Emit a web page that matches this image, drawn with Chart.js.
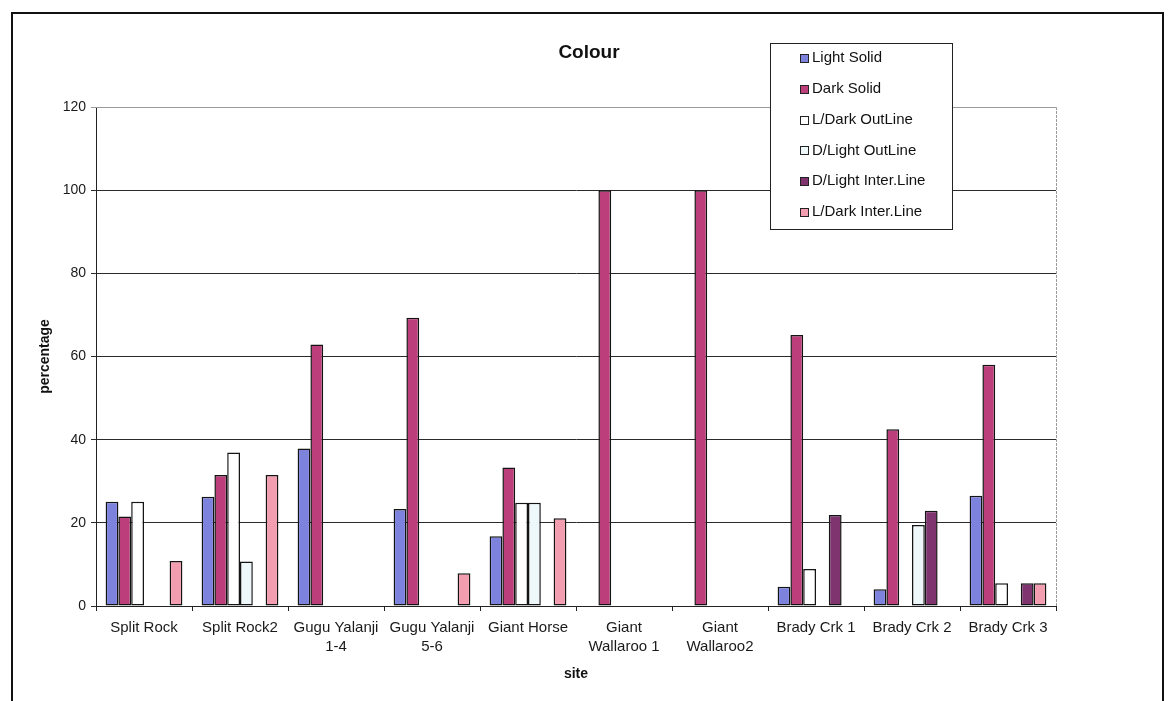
<!DOCTYPE html>
<html>
<head>
<meta charset="utf-8">
<title>Colour</title>
<script src="https://cdn.jsdelivr.net/npm/chart.js@4/dist/chart.umd.min.js"></script>
<style>
  html, body { margin: 0; padding: 0; background: #fff; }
  #wrap { width: 1168px; height: 701px; position: relative; }
</style>
</head>
<body>
<div id="wrap"><canvas id="c" width="1168" height="701"></canvas></div>
<script>
// Sites along the x axis (multi-line labels as arrays)
const categories = [
  ["Split Rock"], ["Split Rock2"], ["Gugu Yalanji", "1-4"], ["Gugu Yalanji", "5-6"],
  ["Giant Horse"], ["Giant", "Wallaroo 1"], ["Giant", "Wallaroo2"],
  ["Brady Crk 1"], ["Brady Crk 2"], ["Brady Crk 3"]
];

// Percentages per colour class (null = no bar)
const lightSolid     = [25.1, 26.3, 37.9, 23.3, 16.8, null, null, 4.6, 4.0, 26.5];
const darkSolid      = [21.5, 31.5, 62.9, 69.3, 33.3, 100, 100, 65.2, 42.5, 58.0];
const lDarkOutLine   = [25.1, 36.9, null, null, 24.8, null, null, 8.9, null, 5.5];
const dLightOutLine  = [null, 10.7, null, null, 24.8, null, null, null, 19.5, null];
const dLightInterLine= [null, null, null, null, null, null, null, 21.9, 22.9, 5.5];
const lDarkInterLine = [10.8, 31.5, null, 7.9, 21.1, null, null, null, null, 5.5];

const seriesNames = ["Light Solid", "Dark Solid", "L/Dark OutLine", "D/Light OutLine", "D/Light Inter.Line", "L/Dark Inter.Line"];
const seriesColors = ["#7d83dc", "#bc3f7c", "#ffffff", "#eef7f9", "#7f346f", "#f29db0"];

// y axis ticks
const yTicks = [0, 20, 40, 60, 80, 100, 120];

const FONT = "'Liberation Sans', Arial, sans-serif";

const seriesData = [lightSolid, darkSolid, lDarkOutLine, dLightOutLine, dLightInterLine, lDarkInterLine];

const datasets = seriesNames.map((name, i) => ({
  label: name,
  data: seriesData[i],
  backgroundColor: seriesColors[i],
  borderColor: "#141414",
  borderWidth: 1.5,
  borderSkipped: false,
  categoryPercentage: 0.8,
  barPercentage: 1.0
}));

// Page frame, plot border, title and boxed legend
const decor = {
  id: "decor",
  beforeDraw(chart) {
    const ctx = chart.ctx;
    ctx.save();
    ctx.fillStyle = "#fff";
    ctx.fillRect(0, 0, chart.width, chart.height);
    ctx.restore();
  },
  beforeDatasetsDraw(chart) {
    const ctx = chart.ctx, a = chart.chartArea;
    ctx.save();
    ctx.strokeStyle = "#9a9a9a";
    ctx.lineWidth = 1;
    ctx.setLineDash([3, 1]);
    ctx.beginPath();
    ctx.moveTo(a.left, Math.round(a.top) + 0.5);
    ctx.lineTo(Math.round(a.right) + 0.5, Math.round(a.top) + 0.5);
    ctx.lineTo(Math.round(a.right) + 0.5, a.bottom);
    ctx.stroke();
    ctx.restore();
  },
  afterDraw(chart) {
    const ctx = chart.ctx;
    ctx.save();
    // outer frame
    ctx.strokeStyle = "#111";
    ctx.lineWidth = 2;
    ctx.strokeRect(12, 13, 1151, 720);

    // title
    ctx.fillStyle = "#111";
    ctx.font = "bold 19px " + FONT;
    ctx.textAlign = "center";
    ctx.textBaseline = "middle";
    ctx.fillText("Colour", 589, 53);

    // legend
    const lx = 770.5, ly = 43.5, lw = 182, lh = 186;
    ctx.fillStyle = "#fff";
    ctx.fillRect(lx, ly, lw, lh);
    ctx.strokeStyle = "#222";
    ctx.lineWidth = 1;
    ctx.strokeRect(lx, ly, lw, lh);
    ctx.font = "15px " + FONT;
    ctx.textAlign = "left";
    chart.data.datasets.forEach((ds, i) => {
      const cy = 58 + i * 30.8;
      ctx.fillStyle = ds.backgroundColor;
      ctx.fillRect(800, Math.round(cy - 4), 9, 9);
      ctx.strokeStyle = "#222";
      ctx.strokeRect(800.5, Math.round(cy - 4) + 0.5, 8, 8);
      ctx.fillStyle = "#111";
      ctx.fillText(ds.label, 812, cy);
    });
    ctx.restore();
  }
};

new Chart(document.getElementById("c"), {
  type: "bar",
  data: { labels: categories, datasets },
  plugins: [decor],
  options: {
    responsive: false,
    animation: false,
    layout: { padding: { left: 0, right: 112, top: 107, bottom: 0 } },
    plugins: { legend: { display: false }, title: { display: false }, tooltip: { enabled: false } },
    scales: {
      x: {
        offset: true,
        grid: { display: true, drawOnChartArea: false, drawTicks: true, tickLength: 5, color: "#222", offset: true },
        border: { display: true, color: "#222", width: 1 },
        ticks: { color: "#1a1a1a", font: { family: FONT, size: 15, lineHeight: 1.27 }, padding: 7, maxRotation: 0, autoSkip: false },
        title: { display: true, text: "site", color: "#111", font: { family: FONT, size: 14, weight: "bold" }, padding: { top: 0, bottom: 18 } },
        afterFit(scale) { scale.height = 95; }
      },
      y: {
        min: 0, max: 120,
        afterBuildTicks(scale) { scale.ticks = yTicks.map(v => ({ value: v })); },
        grid: { color: (c) => c.tick && c.tick.value === 120 ? "#9a9a9a" : "#2a2a2a", lineWidth: 1, tickLength: 5, drawTicks: true },
        border: { display: true, color: "#222", width: 1 },
        ticks: { color: "#1a1a1a", font: { family: FONT, size: 14 }, padding: 5 },
        title: { display: true, text: "percentage", color: "#111", font: { family: FONT, size: 14, weight: "bold" }, padding: { top: 37, bottom: 0 } },
        afterFit(scale) { scale.width = 96; }
      }
    }
  }
});
</script>
</body>
</html>
